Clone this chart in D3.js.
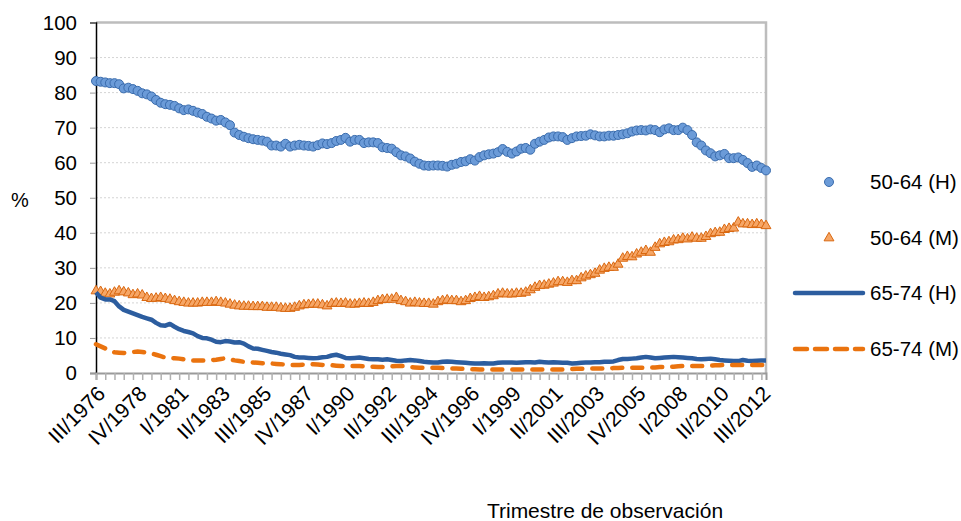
<!DOCTYPE html>
<html>
<head>
<meta charset="utf-8">
<script src="https://cdn.jsdelivr.net/npm/d3@7"></script>
<style>
  body { margin: 0; background: #fff; }
  svg text { font-family: Arial, "Liberation Sans", sans-serif; fill: #000; }
</style>
</head>
<body>
<svg id="chart" width="961" height="521"></svg>
<script>
// Quarter categories, III/1976 .. IV/2012
var romans = ["I", "II", "III", "IV"];
var quarters = [];
for (var yr = 1976; yr <= 2012; yr++) {
    for (var q = 0; q < 4; q++) {
        if (yr === 1976 && q < 2) continue;
        quarters.push(romans[q] + "/" + yr);
    }
}

var xLabels = ["III/1976", "IV/1978", "I/1981", "II/1983", "III/1985", "IV/1987", "I/1990",
    "II/1992", "III/1994", "IV/1996", "I/1999", "II/2001", "III/2003", "IV/2005", "I/2008",
    "II/2010", "III/2012"];
var yTicks = [0, 10, 20, 30, 40, 50, 60, 70, 80, 90, 100];

// 50-64 (H)
var h5064 = [83.3, 83.1, 82.9, 82.7, 82.7, 82.4, 81.2, 81.4, 81.0, 80.5,
    79.8, 79.5, 78.9, 77.9, 77.1, 76.7, 76.5, 76.2, 75.5, 75.0,
    75.2, 74.8, 74.3, 73.9, 73.1, 72.6, 72.0, 72.2, 71.5, 70.7,
    68.6, 67.9, 67.4, 67.0, 66.7, 66.5, 66.3, 66.0, 64.9, 64.9,
    64.6, 65.4, 64.6, 64.9, 65.1, 64.9, 64.8, 64.6, 65.0, 65.5,
    65.3, 65.6, 66.2, 66.5, 67.1, 66.0, 66.5, 66.5, 65.6, 65.8,
    65.8, 65.6, 64.4, 64.2, 64.0, 63.0, 62.1, 61.8, 61.2, 60.3,
    59.7, 59.2, 59.1, 59.2, 59.2, 59.1, 58.9, 59.4, 59.7, 60.2,
    60.4, 61.0, 60.6, 61.6, 62.1, 62.4, 62.6, 63.0, 63.9, 63.1,
    62.6, 63.2, 64.0, 64.2, 63.7, 65.4, 66.0, 66.5, 67.2, 67.5,
    67.5, 67.3, 66.5, 67.0, 67.5, 67.6, 67.7, 68.1, 67.8, 67.5,
    67.5, 67.7, 67.7, 67.9, 68.1, 68.4, 68.9, 69.2, 69.3, 69.2,
    69.5, 69.3, 68.7, 69.5, 69.8, 69.3, 69.3, 70.0, 69.3, 67.9,
    65.8, 64.9, 63.5, 62.7, 61.8, 62.1, 62.5, 61.3, 61.3, 61.5,
    60.8, 59.9, 58.8, 59.2, 58.5, 57.8];

// 50-64 (M)
var m5064 = [23.4, 23.2, 22.7, 22.5, 23.0, 23.4, 23.1, 22.8, 22.3, 22.5,
    22.2, 21.5, 21.2, 21.3, 21.5, 21.2, 21.0, 20.6, 20.3, 20.1,
    19.9, 19.9, 19.9, 20.1, 20.1, 20.1, 20.3, 20.1, 19.9, 19.6,
    19.3, 19.1, 19.0, 19.0, 18.9, 18.9, 18.9, 18.7, 18.7, 18.7,
    18.5, 18.4, 18.4, 18.7, 19.1, 19.4, 19.5, 19.6, 19.6, 19.4,
    19.1, 19.8, 19.9, 19.8, 19.9, 19.6, 19.6, 19.8, 19.9, 19.8,
    20.1, 20.6, 20.9, 21.0, 21.0, 21.5, 20.6, 20.3, 19.9, 20.1,
    19.9, 19.8, 19.8, 19.6, 20.3, 20.6, 20.8, 20.6, 20.6, 20.3,
    20.6, 21.2, 21.5, 21.8, 21.5, 21.7, 22.0, 22.5, 22.7, 22.5,
    22.5, 22.7, 22.7, 23.0, 23.7, 24.4, 24.9, 25.0, 25.3, 25.6,
    26.0, 26.0, 25.8, 26.3, 26.3, 27.1, 27.6, 28.0, 28.4, 29.3,
    29.8, 30.1, 30.1, 31.0, 32.7, 33.2, 33.1, 33.9, 34.4, 34.9,
    34.4, 35.8, 36.8, 37.2, 37.4, 37.9, 38.0, 38.4, 38.2, 38.7,
    38.4, 38.4, 38.9, 39.7, 40.0, 40.1, 40.9, 41.2, 41.3, 43.0,
    42.5, 42.5, 42.3, 42.5, 42.3, 42.0];

// 65-74 (H)
var h6574 = [23.0, 21.5, 21.0, 21.0, 20.5, 19.0, 18.0, 17.5, 17.0, 16.5,
    16.0, 15.6, 15.2, 14.3, 13.6, 13.5, 14.0, 13.2, 12.5, 12.0,
    11.7, 11.3, 10.5, 10.0, 9.9, 9.5, 8.9, 8.8, 9.1, 9.0,
    8.7, 8.8, 8.4, 7.6, 7.0, 6.9, 6.6, 6.3, 6.0, 5.8,
    5.5, 5.3, 5.1, 4.6, 4.4, 4.4, 4.3, 4.2, 4.3, 4.5,
    4.6, 5.0, 5.2, 4.8, 4.3, 4.2, 4.3, 4.4, 4.2, 4.0,
    3.9, 3.9, 3.8, 3.9, 3.7, 3.5, 3.4, 3.6, 3.7, 3.6,
    3.4, 3.2, 3.1, 3.0, 3.0, 3.2, 3.3, 3.2, 3.1, 3.0,
    2.9, 2.8, 2.7, 2.7, 2.8, 2.7, 2.7, 2.9, 3.0, 3.0,
    3.0, 2.9, 3.0, 3.1, 3.1, 3.0, 3.2, 3.1, 3.0, 3.1,
    3.0, 2.9, 2.9, 2.7, 2.8, 2.9, 3.0, 3.0, 3.1, 3.1,
    3.2, 3.2, 3.3, 3.7, 4.0, 4.0, 4.1, 4.2, 4.4, 4.6,
    4.4, 4.2, 4.3, 4.4, 4.5, 4.6, 4.5, 4.4, 4.3, 4.2,
    4.0, 3.9, 4.0, 4.1, 3.9, 3.7, 3.6, 3.5, 3.4, 3.4,
    3.7, 3.5, 3.4, 3.5, 3.6, 3.6];

// 65-74 (M)
var m6574 = [8.2, 7.6, 7.0, 6.3, 5.9, 5.8, 5.7, 5.8, 6.0, 6.1,
    6.0, 5.8, 5.6, 5.2, 4.8, 4.4, 4.3, 4.2, 4.1, 3.9,
    3.8, 3.6, 3.6, 3.6, 3.6, 3.7, 3.8, 4.0, 4.2, 3.9,
    3.6, 3.4, 3.2, 3.1, 3.0, 2.9, 2.8, 2.7, 2.7, 2.6,
    2.5, 2.4, 2.3, 2.3, 2.3, 2.4, 2.4, 2.5, 2.4, 2.3,
    2.2, 2.2, 2.1, 2.0, 2.0, 2.0, 2.0, 2.0, 1.9, 1.8,
    1.8, 1.7, 1.7, 1.8, 1.9, 2.0, 2.0, 1.9, 1.7, 1.6,
    1.5, 1.5, 1.5, 1.5, 1.5, 1.4, 1.4, 1.3, 1.3, 1.2,
    1.2, 1.1, 1.1, 1.0, 1.0, 1.0, 1.0, 1.0, 1.0, 1.0,
    1.0, 1.0, 1.0, 1.0, 1.0, 1.0, 1.0, 1.0, 1.0, 1.0,
    1.0, 1.0, 1.1, 1.1, 1.2, 1.2, 1.2, 1.3, 1.3, 1.3,
    1.3, 1.3, 1.4, 1.4, 1.5, 1.5, 1.5, 1.5, 1.5, 1.5,
    1.6, 1.6, 1.7, 1.7, 1.7, 1.8, 1.9, 2.0, 2.0, 2.0,
    2.0, 2.0, 2.0, 2.1, 2.2, 2.2, 2.3, 2.3, 2.3, 2.3,
    2.3, 2.3, 2.3, 2.3, 2.3, 2.3];

var seriesNames = ["50-64 (H)", "50-64 (M)", "65-74 (H)", "65-74 (M)"];

// colours
var dotFill = "#6b9bd8", dotStroke = "#3a6cad";
var triFill = "#f6a666", triStroke = "#d9670f";
var blueLine = "#2c5d9f", orangeLine = "#ea730f";

var svg = d3.select("#chart");
var plotLeft = 96, plotRight = 766, plotTop = 22.5, plotBottom = 373;

var x = d3.scalePoint().domain(quarters).range([plotLeft, plotRight]);
var y = d3.scaleLinear().domain([0, 100]).range([plotBottom, plotTop]);

// Gridlines
svg.append("g")
    .selectAll("line")
    .data(yTicks.filter(function (d) { return d > 0 && d < 100; }))
    .enter()
    .append("line")
    .attr("x1", plotLeft).attr("x2", plotRight)
    .attr("y1", function (d) { return y(d); })
    .attr("y2", function (d) { return y(d); })
    .attr("stroke", "#d4d4d4")
    .attr("stroke-width", 1)
    .attr("stroke-dasharray", "2,2");

// Plot border (top and right)
svg.append("path")
    .attr("d", "M" + plotLeft + "," + y(100) + "H" + plotRight + "V" + y(0))
    .attr("fill", "none")
    .attr("stroke", "#bdbdbd")
    .attr("stroke-width", 2.5);

// Y axis
var yAxis = svg.append("g")
    .attr("transform", "translate(" + plotLeft + ",0)")
    .call(d3.axisLeft(y).tickValues(yTicks).tickSize(6).tickPadding(13));
yAxis.select(".domain").attr("stroke", "#000").attr("stroke-width", 1.5);
yAxis.selectAll(".tick line").attr("stroke", "#999");
yAxis.selectAll("text").style("font-size", "20.5px").attr("fill", "#000");

// X axis ticks every 2 quarters
var xAxis = svg.append("g")
    .attr("transform", "translate(0," + plotBottom + ")")
    .call(d3.axisBottom(x)
        .tickValues(quarters.filter(function (d, i) { return i % 2 === 0; }))
        .tickSize(7)
        .tickFormat(""));
xAxis.select(".domain").attr("stroke", "#9a9a9a").attr("stroke-width", 2);
xAxis.selectAll(".tick line").attr("stroke", "#b0b0b0").attr("stroke-width", 1.5);

// X labels
var xLab = svg.append("g")
    .attr("transform", "translate(0," + plotBottom + ")")
    .call(d3.axisBottom(x).tickValues(xLabels).tickSize(0));
xLab.select(".domain").remove();
xLab.selectAll("text")
    .style("font-size", "21px")
    .style("text-anchor", "end")
    .attr("fill", "#000")
    .attr("x", 0).attr("y", 0).attr("dy", "0")
    .attr("transform", "translate(10,22) rotate(-45)");

// Series 50-64 (H): dots
svg.append("g")
    .selectAll("circle")
    .data(h5064)
    .enter()
    .append("circle")
    .attr("cx", function (d, i) { return x(quarters[i]); })
    .attr("cy", function (d) { return y(d); })
    .attr("r", 4.5)
    .attr("fill", dotFill)
    .attr("stroke", dotStroke)
    .attr("stroke-width", 1);

// Series 50-64 (M): triangles
var tri = d3.symbol().type(d3.symbolTriangle).size(42);
svg.append("g")
    .selectAll("path")
    .data(m5064)
    .enter()
    .append("path")
    .attr("d", tri)
    .attr("transform", function (d, i) { return "translate(" + x(quarters[i]) + "," + y(d) + ")"; })
    .attr("fill", triFill)
    .attr("stroke", triStroke)
    .attr("stroke-width", 1);

var line = d3.line()
    .x(function (d, i) { return x(quarters[i]); })
    .y(function (d) { return y(d); });

// Series 65-74 (H)
svg.append("path")
    .datum(h6574)
    .attr("d", line)
    .attr("fill", "none")
    .attr("stroke", blueLine)
    .attr("stroke-width", 4.5)
    .attr("stroke-linejoin", "round");

// Series 65-74 (M)
svg.append("path")
    .datum(m6574)
    .attr("d", line)
    .attr("fill", "none")
    .attr("stroke", orangeLine)
    .attr("stroke-width", 4.5)
    .attr("stroke-linecap", "round")
    .attr("stroke-dasharray", "10,10");

// Legend
var legendY = [182, 238, 293, 349];
var legend = svg.append("g");
legend.append("circle")
    .attr("cx", 829).attr("cy", legendY[0]).attr("r", 4.5)
    .attr("fill", dotFill).attr("stroke", dotStroke);
legend.append("path")
    .attr("d", tri)
    .attr("transform", "translate(829," + legendY[1] + ")")
    .attr("fill", triFill).attr("stroke", triStroke);
legend.append("line")
    .attr("x1", 795).attr("x2", 863)
    .attr("y1", legendY[2]).attr("y2", legendY[2])
    .attr("stroke", blueLine).attr("stroke-width", 4.5)
    .attr("stroke-linecap", "round");
legend.append("line")
    .attr("x1", 795).attr("x2", 863)
    .attr("y1", legendY[3]).attr("y2", legendY[3])
    .attr("stroke", orangeLine).attr("stroke-width", 4.5)
    .attr("stroke-linecap", "round")
    .attr("stroke-dasharray", "12,8");
legend.selectAll("text")
    .data(seriesNames)
    .enter()
    .append("text")
    .attr("x", 870)
    .attr("y", function (d, i) { return legendY[i]; })
    .attr("dy", "0.35em")
    .style("font-size", "20.5px")
    .text(function (d) { return d; });

// Axis titles
svg.append("text")
    .attr("x", 20).attr("y", 200)
    .attr("dy", "0.35em")
    .style("text-anchor", "middle")
    .style("font-size", "20px")
    .text("%");
svg.append("text")
    .attr("x", 605).attr("y", 518)
    .style("text-anchor", "middle")
    .style("font-size", "21px")
    .text("Trimestre de observación");
</script>
</body>
</html>
